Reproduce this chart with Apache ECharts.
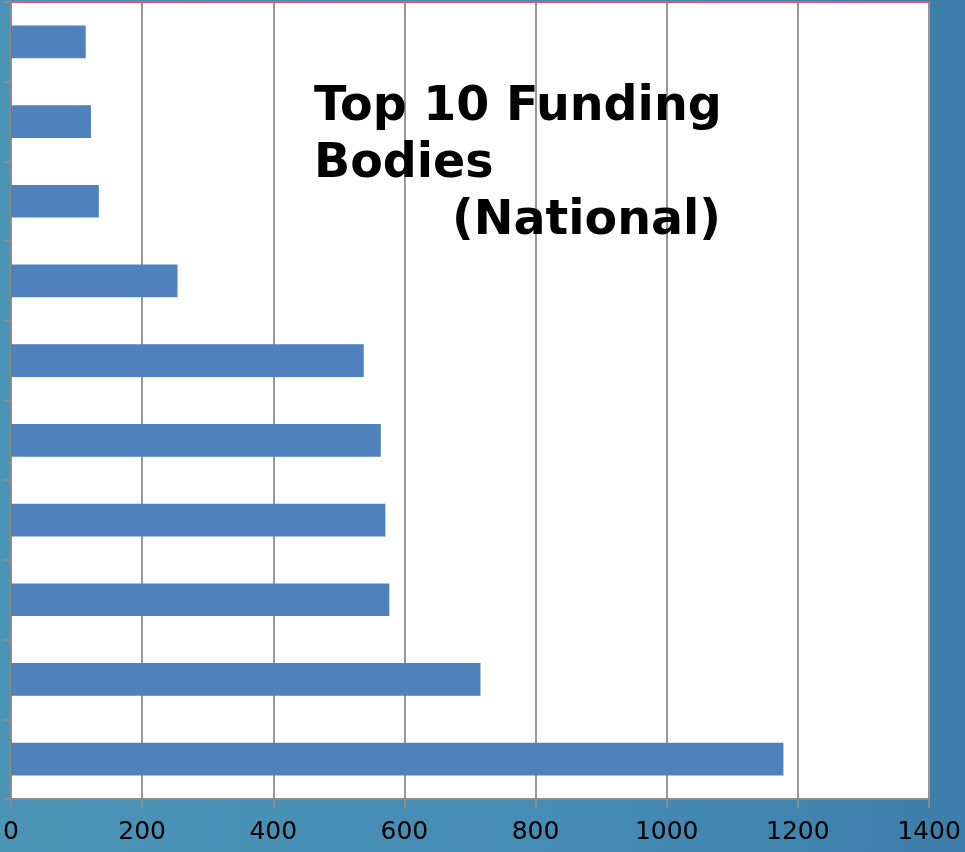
<!DOCTYPE html>
<html>
<head>
<meta charset="utf-8">
<script src="https://cdn.jsdelivr.net/npm/echarts@6/dist/echarts.min.js"></script>
<style>
html,body{margin:0;padding:0;}
#chart{width:965px;height:852px;}
</style>
</head>
<body>
<div id="chart"></div>
<script>
// Categories listed bottom to top (labels are not shown in the reference)
const categories = ["Funder 1","Funder 2","Funder 3","Funder 4","Funder 5","Funder 6","Funder 7","Funder 8","Funder 9","Funder 10"];
const values = [1178, 716, 577, 571, 564, 538, 254, 134, 122, 114];
const xTicks = [0, 200, 400, 600, 800, 1000, 1200, 1400];

const chart = echarts.init(document.getElementById('chart'));
chart.setOption({
  animation: false,
  backgroundColor: {
    type: 'linear', x: 0, y: 0, x2: 1, y2: 0,
    colorStops: [
      {offset: 0, color: '#4b94b6'},
      {offset: 0.6, color: '#458bb3'},
      {offset: 1, color: '#3d7eaa'}
    ]
  },
  title: [
    {
      text: 'Top 10 Funding\nBodies',
      left: 309, top: 74,
      textStyle: {fontFamily: 'DejaVu Sans', fontWeight: 'bold', fontSize: 47.5, lineHeight: 57, color: '#000'}
    },
    {
      text: '(National)',
      right: 239, top: 188,
      textStyle: {fontFamily: 'DejaVu Sans', fontWeight: 'bold', fontSize: 47.5, lineHeight: 57, color: '#000'}
    }
  ],
  grid: {
    left: 7.5, right: 36, top: 2, bottom: 53,
    show: true, backgroundColor: '#ffffff', borderColor: '#8c8c8c', borderWidth: 2,
    containLabel: false
  },
  xAxis: [{
    type: 'value', min: xTicks[0], max: xTicks[xTicks.length - 1], interval: 200,
    axisLine: {show: true, lineStyle: {color: '#8c8c8c', width: 2}},
    axisTick: {show: true, length: 9, lineStyle: {color: '#8c8c8c', width: 2}},
    axisLabel: {color: '#000', fontFamily: 'DejaVu Sans', fontSize: 25, margin: 21,
      formatter: function (v) { return String(v); }},
    splitLine: {show: true, lineStyle: {color: '#989898', width: 2}}
  }, {
    type: 'value', position: 'top', min: 0, max: 1400,
    axisLine: {show: true, lineStyle: {color: '#e8566e', width: 2}},
    axisTick: {show: false}, axisLabel: {show: false}, splitLine: {show: false}
  }],
  yAxis: {
    type: 'category', data: categories,
    axisLine: {show: true, lineStyle: {color: '#8c8c8c', width: 2}},
    axisTick: {show: true, length: 8, lineStyle: {color: '#8c8c8c', width: 2}},
    axisLabel: {show: false},
    splitLine: {show: false}
  },
  series: [{
    type: 'bar', data: values, xAxisIndex: 0,
    barCategoryGap: '59%',
    itemStyle: {color: '#4f81bd'}
  }]
});
</script>
</body>
</html>
